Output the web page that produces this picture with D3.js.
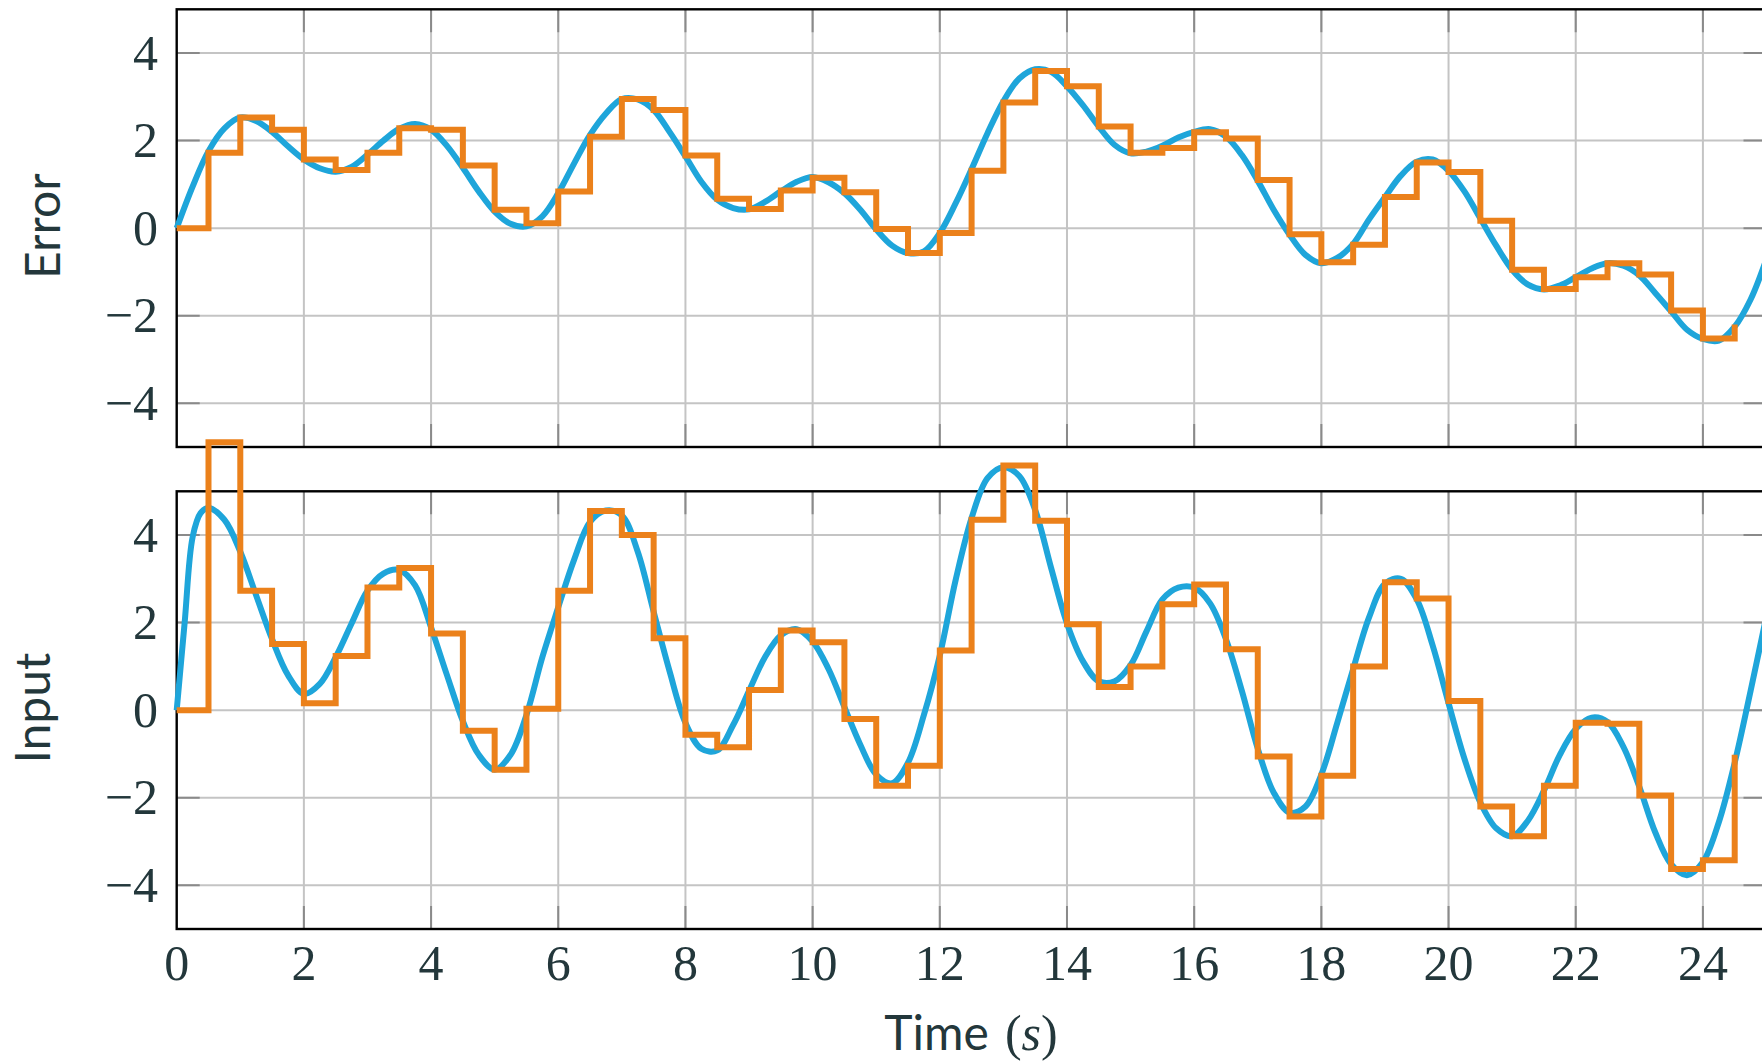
<!DOCTYPE html>
<html>
<head>
<meta charset="utf-8">
<script src="https://cdn.jsdelivr.net/npm/d3@7"></script>
<style>
  body { margin: 0; background: #fff; }
  svg { display: block; }
</style>
</head>
<body>
<svg id="chart" width="1762" height="1064"></svg>
<script>
const W = 1762, H = 1064;
const svg = d3.select("#chart");

// sample times of the zero-order-hold signals
const holdT = [0,0.5,1,1.5,2,2.5,3,3.5,4,4.5,5,5.5,6,6.5,7,7.5,8,8.5,9,9.5,
  10,10.5,11,11.5,12,12.5,13,13.5,14,14.5,15,15.5,16,16.5,17,17.5,18,18.5,19,19.5,
  20,20.5,21,21.5,22,22.5,23,23.5,24,24.5];

// continuous curve sample times
const errCurveT = [0,0.25,0.5,0.75,1,1.25,1.5,1.75,2,2.25,2.5,2.75,3,3.25,3.5,3.75,
  4,4.25,4.5,4.75,5,5.25,5.5,5.75,6,6.25,6.5,6.75,7,7.25,7.5,7.75,8,8.25,8.5,8.75,
  9,9.25,9.5,9.75,10,10.25,10.5,10.75,11,11.25,11.5,11.75,12,12.25,12.5,12.75,
  13,13.25,13.5,13.75,14,14.25,14.5,14.75,15,15.25,15.5,15.75,16,16.25,16.5,16.75,
  17,17.25,17.5,17.75,18,18.25,18.5,18.75,19,19.25,19.5,19.75,20,20.25,20.5,20.75,
  21,21.25,21.5,21.75,22,22.25,22.5,22.75,23,23.25,23.5,23.75,24,24.25,24.5,24.75,25];
const errCurveV = [0,0.95,1.76,2.28,2.53,2.45,2.2,1.87,1.57,1.37,1.29,1.4,1.68,2.0,2.27,2.38,
  2.25,1.88,1.38,0.84,0.38,0.1,0.04,0.27,0.8,1.48,2.13,2.62,2.95,2.94,2.7,2.2,1.64,1.06,0.65,0.46,
  0.43,0.6,0.84,1.06,1.17,1.05,0.8,0.42,-0.03,-0.4,-0.57,-0.53,-0.11,0.57,1.35,2.17,
  2.9,3.42,3.63,3.57,3.24,2.81,2.32,1.9,1.71,1.75,1.88,2.07,2.2,2.26,2.09,1.67,
  1.08,0.42,-0.15,-0.61,-0.8,-0.68,-0.36,0.2,0.71,1.2,1.52,1.57,1.31,0.84,0.22,-0.4,
  -0.95,-1.29,-1.4,-1.31,-1.12,-0.92,-0.8,-0.86,-1.08,-1.48,-1.9,-2.32,-2.53,-2.57,-2.25,-1.63,-0.7];
const errHoldV = [0,1.72,2.53,2.25,1.57,1.33,1.72,2.28,2.25,1.43,0.42,0.11,0.84,2.09,2.95,2.70,
  1.66,0.67,0.44,0.86,1.15,0.82,-0.02,-0.57,-0.11,1.31,2.87,3.59,3.24,2.32,1.72,1.83,
  2.19,2.05,1.1,-0.14,-0.78,-0.38,0.71,1.5,1.28,0.17,-0.95,-1.39,-1.12,-0.8,-1.06,-1.88,-2.52,-2.2];

const inCurveT = [0,0.125,0.25,0.375,0.5,0.75,1,1.25,1.5,1.75,2,2.25,2.5,2.75,3,3.25,3.5,3.75,
  4,4.25,4.5,4.75,5,5.25,5.5,5.75,6,6.25,6.5,6.75,7,7.25,7.5,7.75,8,8.25,8.5,8.75,
  9,9.25,9.5,9.75,10,10.25,10.5,10.75,11,11.25,11.5,11.75,12,12.25,12.5,12.75,
  13,13.25,13.5,13.75,14,14.25,14.5,14.75,15,15.25,15.5,15.75,16,16.25,16.5,16.75,
  17,17.25,17.5,17.75,18,18.25,18.5,18.75,19,19.25,19.5,19.75,20,20.25,20.5,20.75,
  21,21.25,21.5,21.75,22,22.25,22.5,22.75,23,23.25,23.5,23.75,24,24.25,24.5,24.75,25];
const inCurveV = [0,2.0,3.95,4.5,4.62,4.35,3.62,2.62,1.62,0.8,0.37,0.6,1.21,1.98,2.73,3.12,3.2,2.85,
  1.89,0.8,-0.25,-1.02,-1.36,-1.02,-0.11,1.21,2.35,3.44,4.3,4.56,4.45,3.62,2.25,0.89,-0.29,-0.88,-0.92,-0.34,
  0.44,1.21,1.71,1.85,1.57,0.94,0.07,-0.79,-1.47,-1.67,-1.2,-0.11,1.25,2.98,4.39,5.3,
  5.55,5.35,4.57,3.25,1.98,1.12,0.66,0.66,1.03,1.8,2.53,2.8,2.8,2.44,1.62,0.44,
  -0.88,-1.88,-2.34,-2.2,-1.47,-0.29,0.94,2.12,2.89,3.0,2.53,1.48,0.16,-1.11,-2.11,-2.7,
  -2.88,-2.52,-1.84,-1.02,-0.43,-0.17,-0.27,-0.84,-1.75,-2.79,-3.52,-3.77,-3.47,-2.56,-1.2,0.44,2.16];
const inHoldV = [0,6.12,2.73,1.51,0.16,1.24,2.8,3.25,1.75,-0.47,-1.36,0.03,2.73,4.55,4.0,1.64,
  -0.56,-0.85,0.46,1.82,1.55,-0.2,-1.73,-1.27,1.36,4.35,5.59,4.33,1.96,0.53,1.0,2.42,
  2.87,1.39,-1.06,-2.43,-1.5,1.0,2.92,2.55,0.21,-2.2,-2.88,-1.73,-0.29,-0.31,-1.95,-3.63,-3.43,-1.02];

const xTicks = [0,2,4,6,8,10,12,14,16,18,20,22,24];
const yTicks = [-4,-2,0,2,4];

const textColor = "#23373b";
const blue = "#1ea5da";
const orange = "#eb811b";

const x = d3.scaleLinear().domain([0, 25]).range([176.7, 1766.5]);

const panels = [
  { label: "Error", top: 9.3, bottom: 447, curveT: errCurveT, curveV: errCurveV, holdV: errHoldV, labelX: 60, xLabels: false },
  { label: "Input", top: 491.3, bottom: 929, curveT: inCurveT, curveV: inCurveV, holdV: inHoldV, labelX: 50, xLabels: true }
];

svg.append("rect").attr("width", W).attr("height", H).attr("fill", "#fff");

panels.forEach(function(p) {
  const y = d3.scaleLinear().domain([-5, 5]).range([p.bottom, p.top]);
  const g = svg.append("g");

  // grid
  g.selectAll(".vg").data(xTicks.filter(d => d > 0)).enter().append("line")
    .attr("x1", d => x(d)).attr("x2", d => x(d))
    .attr("y1", p.top).attr("y2", p.bottom)
    .attr("stroke", "#c4c4c4").attr("stroke-width", 2);
  g.selectAll(".hg").data(yTicks).enter().append("line")
    .attr("x1", x(0)).attr("x2", x(25))
    .attr("y1", d => y(d)).attr("y2", d => y(d))
    .attr("stroke", "#c4c4c4").attr("stroke-width", 2);

  // tick marks (inside, both sides)
  const tl = 23;
  g.selectAll(".xt").data(xTicks.filter(d => d > 0)).enter().append("path")
    .attr("d", d => `M${x(d)},${p.top}v${tl}M${x(d)},${p.bottom}v${-tl}`)
    .attr("stroke", "#8a8a8a").attr("stroke-width", 2);
  g.selectAll(".yt").data(yTicks).enter().append("path")
    .attr("d", d => `M${x(0)},${y(d)}h${tl}M${x(25)},${y(d)}h${-tl}`)
    .attr("stroke", "#8a8a8a").attr("stroke-width", 2);

  // frame
  g.append("rect")
    .attr("x", x(0)).attr("y", p.top)
    .attr("width", x(25) - x(0)).attr("height", p.bottom - p.top)
    .attr("fill", "none").attr("stroke", "#000").attr("stroke-width", 2.4);

  // y tick labels
  g.selectAll(".yl").data(yTicks).enter().append("text")
    .attr("x", 158).attr("y", d => y(d) + 16.5)
    .attr("text-anchor", "end")
    .attr("font-family", "'Liberation Serif', serif").attr("font-size", 50)
    .attr("fill", textColor)
    .text(d => d < 0 ? "\u2212" + Math.abs(d) : d);

  if (p.xLabels) {
    g.selectAll(".xl").data(xTicks).enter().append("text")
      .attr("x", d => x(d)).attr("y", 979.5)
      .attr("text-anchor", "middle")
      .attr("font-family", "'Liberation Serif', serif").attr("font-size", 50)
      .attr("fill", textColor)
      .text(d => d);
  }

  // axis label
  g.append("text")
    .attr("transform", `translate(${p.labelX},${(p.top + p.bottom) / 2 - 2}) rotate(-90)`)
    .attr("text-anchor", "middle")
    .attr("font-family", "Lato, sans-serif").attr("font-size", 48)
    .attr("fill", textColor)
    .text(p.label);

  // continuous signal
  const curvePts = p.curveT.map((t, i) => [t, p.curveV[i]]);
  g.append("path").datum(curvePts)
    .attr("d", d3.line().x(d => x(d[0])).y(d => y(d[1])).curve(d3.curveCatmullRom.alpha(0.5)))
    .attr("fill", "none").attr("stroke", blue).attr("stroke-width", 6)
    .attr("stroke-linejoin", "round");

  // sampled signal
  const holdPts = holdT.map((t, i) => [t, p.holdV[i]]);
  g.append("path").datum(holdPts)
    .attr("d", d3.line().x(d => x(d[0])).y(d => y(d[1])).curve(d3.curveStepAfter))
    .attr("fill", "none").attr("stroke", orange).attr("stroke-width", 6)
    .attr("stroke-linejoin", "miter");
});

// x axis label
const xl = svg.append("text")
  .attr("x", 971).attr("y", 1050)
  .attr("text-anchor", "middle")
  .attr("font-size", 48)
  .attr("fill", textColor);
xl.append("tspan").attr("font-family", "Lato, sans-serif").text("Time");
xl.append("tspan").attr("font-family", "'Liberation Serif', serif").attr("font-size", 50).attr("dx", 16).text("(");
xl.append("tspan").attr("font-family", "'Liberation Serif', serif").attr("font-size", 50).attr("font-style", "italic").text("s");
xl.append("tspan").attr("font-family", "'Liberation Serif', serif").attr("font-size", 50).text(")");
</script>
</body>
</html>
